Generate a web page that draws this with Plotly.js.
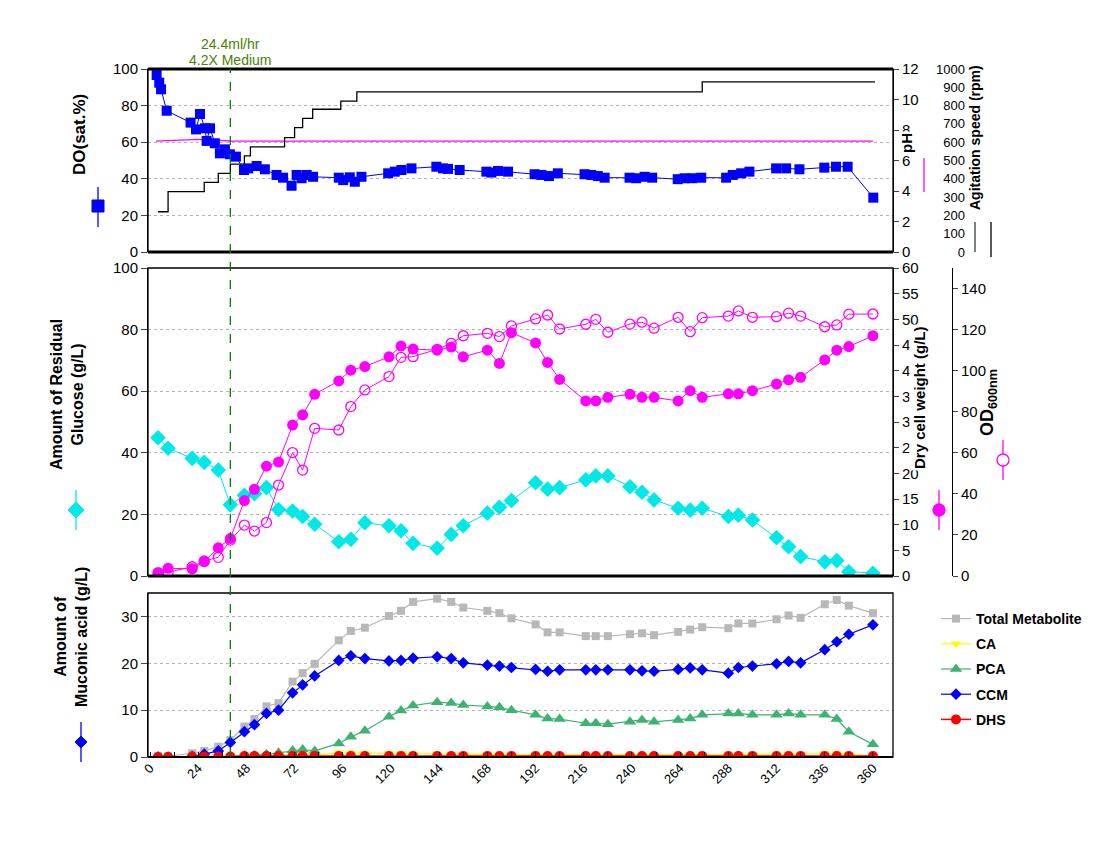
<!DOCTYPE html>
<html>
<head>
<meta charset="utf-8">
<script src="https://cdn.plot.ly/plotly-3.0.1.min.js"></script>
<style>html,body{margin:0;padding:0;background:#fff;}#chart{width:1110px;height:868px;}</style>
</head>
<body>
<div id="chart"></div>
<script>
// ---------------- DATA ----------------
const timeTicks = [0, 24, 48, 72, 96, 120, 144, 168, 192, 216, 240, 264, 288, 312, 336, 360];
const minorTicks = [12, 36, 60, 84, 108, 132, 156, 180, 204, 228, 252, 276, 300, 324, 348];
const feedStartHour = 40;
const feedLabel = ["24.4ml/hr", "4.2X Medium"];

// Panel 1: dissolved oxygen, pH, agitation
const doHours = [3.3, 4.6, 5.5, 8.3, 20.2, 22.9, 24.9, 27.4, 28.2, 29.9, 32.3, 34.8, 37.3, 39.8, 42.8, 46.8, 48.9, 53.1, 57.2, 63.0,
  66.3, 70.5, 73.0, 75.5, 78.0, 81.2, 94.0, 96.2, 99.5, 102.0, 105.3, 118.6, 121.9, 125.2, 130.2, 142.6, 145.9, 148.4, 154.2, 167.5,
  170.0, 173.3, 178.3, 191.5, 194.9, 198.7, 203.1, 216.4, 219.7, 223.0, 226.4, 238.8, 242.1, 246.3, 250.1, 262.8, 266.2, 270.0, 274.5, 286.9,
  290.2, 294.4, 298.5, 311.8, 316.8, 323.4, 335.8, 341.6, 347.4, 360.2];
const doSat = [96.7, 92.5, 88.9, 77.2, 70.7, 67.0, 75.4, 67.6, 60.7, 67.6, 59.4, 53.9, 56.1, 53.4, 52.1, 44.8, 45.7, 47.0, 45.2, 42.1,
  40.6, 36.2, 42.1, 40.3, 42.1, 41.1, 40.6, 39.3, 40.8, 38.4, 41.1, 43.0, 43.9, 44.8, 45.7, 46.6, 45.7, 45.4, 44.8, 43.9,
  43.4, 44.3, 43.9, 42.5, 42.1, 41.5, 43.0, 42.5, 42.1, 41.5, 40.6, 40.6, 40.3, 41.1, 40.6, 39.8, 40.3, 40.3, 40.6, 40.6,
  42.1, 43.0, 43.9, 45.7, 45.7, 45.2, 46.1, 46.6, 46.6, 29.7];
const phHours = [3, 10, 18, 24, 32, 40, 60, 100, 150, 200, 250, 300, 360];
const phValues = [7.27, 7.3, 7.36, 7.38, 7.33, 7.28, 7.27, 7.27, 7.28, 7.27, 7.27, 7.27, 7.27];
const agitHours = [4, 9, 27, 34, 40, 47, 50, 67, 72, 76, 81, 95, 103, 275, 361];
const agitRpm = [220, 330, 380, 430, 480, 525, 575, 625, 680, 730, 780, 825, 875, 930, 930];

// Sampling times for offline measurements (h)
const sampleHours = [4, 9, 21, 27, 34, 40, 47, 52, 58, 64, 71, 76, 82, 94, 100, 107, 119, 125, 131, 143,
  150, 156, 168, 174, 180, 192, 198, 204, 217, 222, 228, 239, 245, 251, 263, 269, 275, 288, 293, 300,
  312, 318, 324, 336, 342, 348, 360];

// Panel 2: glucose, dry cell weight, OD600
const glucose = [44.9, 41.5, 38.2, 36.9, 34.4, 23.1, 26.2, 26.7, 28.7, 21.6, 21.1, 19.3, 16.8, 11.1, 11.9, 17.3, 16.3, 14.7, 10.6, 9.0,
  13.5, 16.3, 20.4, 22.3, 24.5, 30.3, 28.2, 28.7, 31.2, 32.5, 32.5, 29.0, 27.2, 24.7, 22.0, 21.4, 22.0, 19.3, 19.7, 18.2,
  12.4, 9.5, 6.3, 4.6, 5.0, 1.4, 0.9];
const dcw = [0.7, 1.5, 1.4, 2.8, 5.5, 7.3, 14.7, 16.9, 21.4, 22.2, 29.4, 31.4, 35.4, 38.0, 40.1, 40.8, 42.7, 44.8, 44.2, 44.0,
  44.6, 42.7, 44.0, 41.4, 47.4, 45.4, 41.6, 38.3, 34.1, 34.1, 34.8, 35.4, 34.8, 34.8, 34.1, 36.1, 34.8, 35.5, 35.5, 36.1,
  37.4, 38.2, 38.7, 42.1, 44.0, 44.7, 46.8];
const od600 = [0.8, 1.8, 4.5, 7.3, 9.1, 17.5, 24.8, 21.9, 26.0, 44.3, 60.1, 51.6, 71.9, 71.1, 82.5, 90.6, 97.1, 106.5, 106.8, 110.4,
  113.3, 117.0, 118.2, 116.6, 121.8, 125.2, 127.1, 120.3, 122.6, 125.0, 118.7, 122.7, 123.6, 120.7, 126.0, 119.0, 125.8, 126.6, 129.1, 126.0,
  126.3, 128.0, 126.6, 121.4, 122.3, 127.5, 127.6];

// Panel 3: metabolites (g/L)
const totalMetabolite = [0.2, 0.2, 0.8, 1.3, 2.2, 3.6, 6.5, 8.1, 10.8, 11.5, 16.1, 17.9, 19.9, 24.9, 26.9, 27.6, 30.1, 31.2, 33.1, 33.8,
  33.1, 31.9, 31.2, 30.7, 29.6, 28.3, 26.6, 26.6, 25.8, 25.8, 25.8, 26.2, 26.4, 26.0, 26.7, 27.2, 27.7, 27.5, 28.5, 28.5,
  29.4, 30.2, 29.7, 32.6, 33.5, 32.3, 30.7];
const caConc = [0, 0, 0.1, 0.1, 0.2, 0.2, 0.2, 0.3, 0.3, 0.3, 0.4, 0.4, 0.4, 0.9, 0.9, 0.8, 0.8, 0.8, 0.7, 0.7,
  0.6, 0.6, 0.6, 0.5, 0.5, 0.5, 0.4, 0.4, 0.4, 0.4, 0.4, 0.4, 0.4, 0.4, 0.4, 0.5, 0.5, 0.5, 0.6, 0.6,
  0.7, 0.7, 0.6, 0.8, 0.8, 0.6, 0.2];
const pcaConc = [0, 0, 0.05, 0.05, 0, 0, 0.3, 0.4, 0.6, 0.9, 1.4, 1.6, 1.3, 2.9, 4.3, 5.6, 8.6, 9.9, 11.0, 11.7,
  11.5, 11.1, 10.8, 10.6, 10.0, 9.0, 8.2, 8.1, 7.2, 7.2, 7.0, 7.5, 7.9, 7.5, 7.9, 8.2, 9.0, 9.3, 9.3, 9.0,
  9.0, 9.3, 9.0, 9.0, 8.1, 5.4, 2.7];
const ccmConc = [0, 0, 0.1, 0.6, 1.3, 3.1, 5.4, 6.9, 9.3, 10.0, 13.7, 15.4, 17.3, 20.6, 21.6, 21.0, 20.5, 20.6, 21.1, 21.4,
  21.0, 20.1, 19.6, 19.4, 19.1, 18.7, 18.3, 18.6, 18.6, 18.6, 18.6, 18.6, 18.4, 18.3, 18.7, 19.0, 18.6, 17.9, 19.1, 19.4,
  19.9, 20.4, 20.1, 22.9, 24.6, 26.2, 28.2];
const dhsConc = [0, 0, 0.1, 0.1, 0.1, 0.1, 0.2, 0.2, 0.2, 0.2, 0.2, 0.2, 0.2, 0.2, 0.2, 0.2, 0.2, 0.2, 0.2, 0.2,
  0.2, 0.2, 0.2, 0.2, 0.2, 0.2, 0.2, 0.2, 0.2, 0.2, 0.2, 0.2, 0.2, 0.2, 0.2, 0.2, 0.2, 0.2, 0.2, 0.2,
  0.2, 0.2, 0.2, 0.2, 0.2, 0.2, 0.2];

// ---------------- LAYOUT HELPERS ----------------
const FONT = "Liberation Sans, Arial, sans-serif";
const L = 148, T = 69, W = 942, H = 688;
const X = px => (px - L) / W;
const Y = py => (T + H - py) / H;
const xEnd = X(893);
const P1 = [Y(252), 1], P2 = [Y(576), Y(268)], P3 = [0, Y(593)];

const BLUE = '#0000ff', MAG = '#ff00ff', CYAN = '#00e8e8', GREY = '#b8b8b8', GREEN = '#3cb371', YEL = '#ffff00', RED = '#ff0000';

const data = [
  // Panel 1
  {x: phHours, y: phValues, yaxis: 'y', mode: 'lines', line: {color: MAG, width: 1.3}, showlegend: false, name: 'pH'},
  {x: agitHours, y: agitRpm, yaxis: 'y2', mode: 'lines', line: {color: 'black', width: 1.3, shape: 'hv'}, showlegend: false, name: 'Agitation'},
  {x: doHours, y: doSat, yaxis: 'y3', mode: 'lines+markers', line: {color: BLUE, width: 1}, marker: {symbol: 'square', size: 10, color: BLUE}, showlegend: false, name: 'DO'},
  // Panel 2
  {x: sampleHours, y: glucose, yaxis: 'y4', mode: 'lines+markers', line: {color: CYAN, width: 1}, marker: {symbol: 'diamond', size: 12, color: CYAN}, showlegend: false, name: 'Glucose'},
  {x: sampleHours, y: dcw, yaxis: 'y5', mode: 'lines+markers', line: {color: MAG, width: 1}, marker: {symbol: 'circle', size: 11, color: MAG}, showlegend: false, name: 'DCW'},
  {x: sampleHours, y: od600, yaxis: 'y6', mode: 'lines+markers', line: {color: MAG, width: 1}, marker: {symbol: 'circle-open', size: 10, color: MAG, line: {width: 1.3}}, showlegend: false, name: 'OD600'},
  // Panel 3
  {x: sampleHours, y: totalMetabolite, yaxis: 'y7', mode: 'lines+markers', name: 'Total Metabolite', legendgroup: 'a', line: {color: GREY, width: 1.2}, marker: {symbol: 'square', size: 8, color: GREY}},
  {x: sampleHours, y: caConc, yaxis: 'y7', mode: 'lines+markers', name: 'CA', legendgroup: 'b', line: {color: YEL, width: 1.2}, marker: {symbol: 'triangle-down', size: 9, color: YEL}},
  {x: sampleHours, y: pcaConc, yaxis: 'y7', mode: 'lines+markers', name: 'PCA', legendgroup: 'c', line: {color: GREEN, width: 1.2}, marker: {symbol: 'triangle-up', size: 11, color: GREEN}},
  {x: sampleHours, y: ccmConc, yaxis: 'y7', mode: 'lines+markers', name: 'CCM', legendgroup: 'd', line: {color: BLUE, width: 1.2}, marker: {symbol: 'diamond', size: 9, color: BLUE}},
  {x: sampleHours, y: dhsConc, yaxis: 'y7', mode: 'lines+markers', name: 'DHS', legendgroup: 'e', line: {color: RED, width: 1.5}, marker: {symbol: 'circle', size: 10, color: RED}}
];

const tickFont = {family: FONT, size: 15, color: 'black'};
const gridStyle = {showgrid: true, gridcolor: '#b5b5b5', griddash: 'dot', gridwidth: 1};

const layout = {
  width: 1110, height: 868,
  margin: {l: L, r: 1110 - L - W, t: T, b: 868 - T - H},
  paper_bgcolor: 'white', plot_bgcolor: 'white',
  font: {family: FONT, size: 14, color: 'black'},
  showlegend: true,
  legend: {x: X(936), y: Y(603), xanchor: 'left', yanchor: 'top', bgcolor: 'rgba(0,0,0,0)',
    font: {family: FONT, size: 14, weight: 'bold', color: 'black'}, traceorder: 'grouped', tracegroupgap: 4},
  xaxis: {domain: [0, xEnd], range: [-1, 370], anchor: 'y7', tickvals: timeTicks, ticktext: timeTicks.map(String),
    tickangle: -45, ticks: 'inside', ticklen: 5, tickcolor: 'black', showgrid: false, zeroline: false, showline: false,
    minor: {tickvals: minorTicks, ticks: 'inside', ticklen: 5, tickcolor: 'black'},
    tickfont: {family: FONT, size: 13, color: 'black'}},
  // Panel 1
  yaxis: {domain: P1, range: [0, 12], side: 'right', anchor: 'x', tickvals: [0, 2, 4, 6, 8, 10, 12], ticks: 'outside', ticklen: 5,
    showgrid: false, zeroline: false, showline: true, linecolor: 'black', tickfont: tickFont},
  yaxis2: {overlaying: 'y', range: [0, 1000], side: 'left', anchor: 'free', position: X(975),
    tickvals: [0, 100, 200, 300, 400, 500, 600, 700, 800, 900, 1000], ticks: '', ticklabelstandoff: 10,
    showgrid: false, zeroline: false, showline: false,
    tickfont: {family: FONT, size: 13, color: 'black'}},
  yaxis3: Object.assign({overlaying: 'y', range: [0, 100], side: 'left', anchor: 'x', tickvals: [0, 20, 40, 60, 80, 100],
    ticks: 'outside', ticklen: 6, zeroline: false, showline: true, linecolor: 'black', tickfont: tickFont}, gridStyle),
  // Panel 2
  yaxis4: Object.assign({domain: P2, range: [0, 100], side: 'left', anchor: 'x', tickvals: [0, 20, 40, 60, 80, 100],
    ticks: 'outside', ticklen: 6, zeroline: false, showline: true, linecolor: 'black', tickfont: tickFont}, gridStyle),
  yaxis5: {overlaying: 'y4', range: [0, 60], side: 'right', anchor: 'x', tickvals: [0, 5, 10, 15, 20, 25, 30, 35, 40, 45, 50, 55, 60],
    ticks: 'outside', ticklen: 5, showgrid: false, zeroline: false, showline: true, linecolor: 'black', tickfont: tickFont},
  yaxis6: {overlaying: 'y4', range: [0, 150], side: 'right', anchor: 'free', position: X(952),
    tickvals: [0, 20, 40, 60, 80, 100, 120, 140], ticks: 'outside', ticklen: 5, showgrid: false, zeroline: false,
    showline: true, linecolor: 'black', tickfont: tickFont},
  // Panel 3
  yaxis7: Object.assign({domain: P3, range: [0, 35], side: 'left', anchor: 'x', tickvals: [0, 10, 20, 30],
    ticks: 'outside', ticklen: 6, zeroline: false, showline: true, linecolor: 'black', tickfont: tickFont}, gridStyle),
  yaxis8: {overlaying: 'y7', range: [0, 35], side: 'right', anchor: 'x', tickvals: [0, 10, 20, 30],
    ticks: 'outside', ticklen: 5, showgrid: false, zeroline: false, showline: true, linecolor: 'black', tickfont: tickFont},
  shapes: [],
  annotations: []
};

const S = layout.shapes, A = layout.annotations;
// Panel frames
function frame(dom, wTop, wBot) {
  S.push({type: 'rect', xref: 'paper', yref: 'paper', x0: 0, x1: xEnd, y0: dom[0], y1: dom[1], line: {color: 'black', width: 1.3}});
  if (wTop) S.push({type: 'line', xref: 'paper', yref: 'paper', x0: 0, x1: xEnd, y0: dom[1], y1: dom[1], line: {color: 'black', width: wTop}});
  if (wBot) S.push({type: 'line', xref: 'paper', yref: 'paper', x0: 0, x1: xEnd, y0: dom[0], y1: dom[0], line: {color: 'black', width: wBot}});
}
frame(P1, 3, 3);
frame(P2, 0, 3);
frame(P3, 0, 2);
// Feed start marker line
S.push({type: 'line', xref: 'x', yref: 'paper', x0: feedStartHour, x1: feedStartHour, y0: 0, y1: 1,
  line: {color: '#008000', width: 1.3, dash: 'dash'}});
// Agitation axis stub
S.push({type: 'line', xref: 'paper', yref: 'paper', x0: X(975), x1: X(975), y0: Y(222), y1: Y(252), line: {color: 'black', width: 1}});

// Axis legend keys
function vline(px, py0, py1, color) {
  S.push({type: 'line', xref: 'paper', yref: 'paper', x0: X(px), x1: X(px), y0: Y(py0), y1: Y(py1), line: {color: color, width: 1.3}});
}
function square(cx, cy, r, color) {
  S.push({type: 'rect', xref: 'paper', yref: 'paper', x0: X(cx - r), x1: X(cx + r), y0: Y(cy + r), y1: Y(cy - r), fillcolor: color, line: {color: color, width: 1}});
}
function diamond(cx, cy, r, color) {
  S.push({type: 'path', xref: 'paper', yref: 'paper', fillcolor: color, line: {color: color, width: 1},
    path: `M ${X(cx)},${Y(cy - r)} L ${X(cx + r)},${Y(cy)} L ${X(cx)},${Y(cy + r)} L ${X(cx - r)},${Y(cy)} Z`});
}
function circle(cx, cy, r, color, fill) {
  S.push({type: 'circle', xref: 'paper', yref: 'paper', x0: X(cx - r), x1: X(cx + r), y0: Y(cy + r), y1: Y(cy - r),
    fillcolor: fill, line: {color: color, width: 1.3}});
}
vline(98, 187, 227, BLUE); square(98, 206, 6, BLUE);
vline(924, 158, 192, MAG);
vline(991, 222, 257, 'black');
vline(76, 490, 530, CYAN); diamond(76, 510, 8, CYAN);
vline(939, 490, 530, MAG); circle(939, 510, 6, MAG, MAG);
vline(1003, 440, 480, MAG); circle(1003, 460, 6, MAG, 'white');
vline(81, 722, 762, BLUE); diamond(81, 742, 6, BLUE);

// Axis titles
function title(text, px, py, size, extra) {
  A.push(Object.assign({text: text, xref: 'paper', yref: 'paper', x: X(px), y: Y(py), showarrow: false, textangle: -90,
    xanchor: 'center', yanchor: 'middle', font: {family: FONT, size: size, color: 'black', weight: 'bold'}}, extra || {}));
}
title('DO(sat.%)', 80, 135, 17);
title('pH', 907, 143, 15, {bgcolor: 'white'});
title('Agitation speed (rpm)', 975, 138, 14);
title('Amount of Residual<br>Glucose (g/L)', 67, 395, 16);
title('Dry cell weight (g/L)', 919, 398, 15, {bgcolor: 'white'});
title('OD<sub>600nm</sub>', 988, 403, 18);
title('Amount of<br>Muconic acid (g/L)', 71, 637, 16);

// Feed annotation
A.push({text: feedLabel[0], xref: 'x', yref: 'paper', x: feedStartHour, y: Y(44), showarrow: false, xanchor: 'center', yanchor: 'middle',
  font: {family: FONT, size: 14, color: '#4a7f00'}});
A.push({text: feedLabel[1], xref: 'x', yref: 'paper', x: feedStartHour, y: Y(60), showarrow: false, xanchor: 'center', yanchor: 'middle',
  font: {family: FONT, size: 14, color: '#4a7f00'}});

Plotly.newPlot('chart', data, layout, {displayModeBar: false, responsive: false});
</script>
</body>
</html>
